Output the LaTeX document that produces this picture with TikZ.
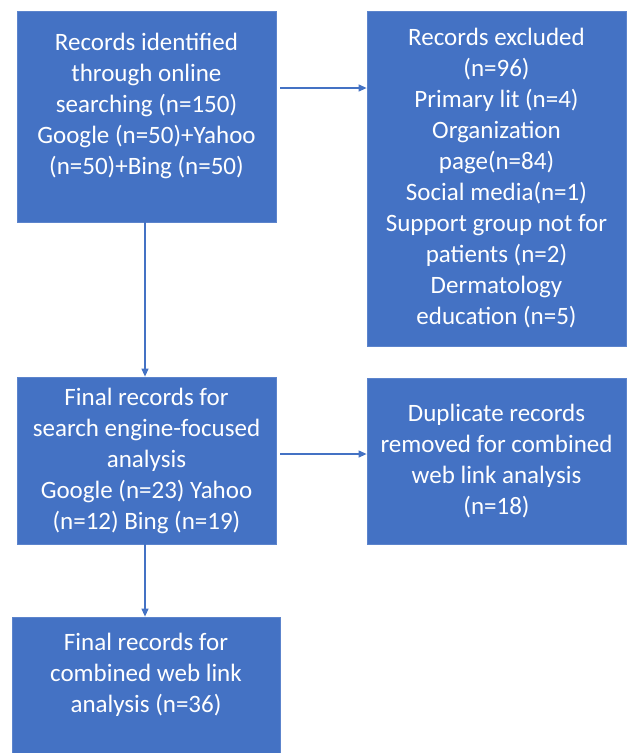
\documentclass[tikz,border=0pt]{standalone}
\usepackage{fontspec}
\setmainfont{Carlito}
\usetikzlibrary{arrows.meta}
\definecolor{boxblue}{RGB}{68,114,196}
\definecolor{edgeblue}{RGB}{92,132,204}
\tikzset{
  rec/.style={draw=edgeblue, line width=0.8pt, fill=boxblue, text=white,
    align=center, inner sep=0pt, font=\fontsize{25}{31}\selectfont},
  flow/.style={draw=boxblue, line width=1.2pt, -{Triangle[length=8pt,width=7pt]}}
}
\begin{document}
\begin{tikzpicture}[x=1pt,y=-1pt]
      \useasboundingbox (0,0) rectangle (627,753);
      \draw
        (146.5,116.5) node[rec, minimum width=259pt, minimum height=211pt] (ident)
          {Records identified\\through online\\searching (n=150)\\Google (n=50)+Yahoo\\(n=50)+Bing (n=50)\\[-5pt]\mbox{}}
        (496.5,178.5) node[rec, minimum width=259pt, minimum height=335pt] (excl)
          {Records excluded\\(n=96)\\Primary lit (n=4)\\Organization\\page(n=84)\\Social media(n=1)\\Support group not for\\patients (n=2)\\Dermatology\\education (n=5)}
        (146.5,460.5) node[rec, minimum width=259pt, minimum height=167pt] (engine)
          {Final records for\\search engine-focused\\analysis\\Google (n=23) Yahoo\\(n=12) Bing (n=19)}
        (496.5,461) node[rec, minimum width=259pt, minimum height=166pt] (dupl)
          {Duplicate records\\removed for combined\\web link analysis\\(n=18)}
        (146,693.5) node[rec, minimum width=268pt, minimum height=153pt] (comb)
          {Final records for\\combined web link\\analysis (n=36)\\[10pt]\mbox{}};
      \begin{scope}[flow]
        \draw ([xshift=4pt,yshift=28.5pt]ident.east) coordinate (a1) -- (a1 -| excl.west);
        \draw ([xshift=-1.5pt]ident.south) -- ([xshift=-1.5pt]engine.north);
        \draw ([xshift=4pt,yshift=6.5pt]engine.east) coordinate (a2) -- (a2 -| dupl.west);
        \draw ([xshift=-1.5pt]engine.south) -- ([xshift=-1pt]comb.north);
      \end{scope}
    \end{tikzpicture}
\end{document}
